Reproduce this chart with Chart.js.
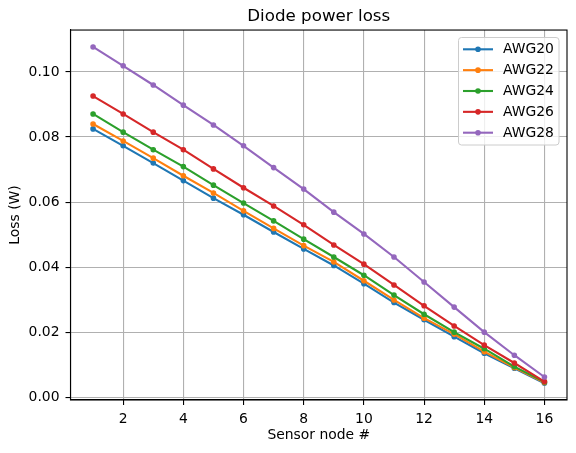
<!DOCTYPE html>
<html>
<head>
<meta charset="utf-8">
<script src="https://cdn.jsdelivr.net/npm/chart.js@4.4.1/dist/chart.umd.min.js"></script>
<style>
    html, body { margin: 0; padding: 0; background: #fff; }
    canvas { display: block; }
</style>
</head>
<body>
<canvas id="loss_chart" width="576" height="453"></canvas>
<script>
// ========== DATA ==========
const sensorNodes = [1, 2, 3, 4, 5, 6, 7, 8, 9, 10, 11, 12, 13, 14, 15, 16];

const awg20 = [0.0825, 0.0773, 0.0720, 0.0666, 0.0612, 0.0561, 0.0508, 0.0456, 0.0405, 0.0349, 0.0291, 0.0238, 0.0186, 0.0135, 0.0089, 0.0043];
const awg22 = [0.0840, 0.0788, 0.0735, 0.0681, 0.0628, 0.0573, 0.0519, 0.0466, 0.0416, 0.0358, 0.0299, 0.0243, 0.0194, 0.0140, 0.0091, 0.0045];
const awg24 = [0.0871, 0.0815, 0.0761, 0.0709, 0.0652, 0.0597, 0.0542, 0.0486, 0.0431, 0.0375, 0.0314, 0.0255, 0.0200, 0.0149, 0.0094, 0.0047];
const awg26 = [0.0926, 0.0871, 0.0815, 0.0761, 0.0702, 0.0644, 0.0588, 0.0530, 0.0468, 0.0409, 0.0345, 0.0281, 0.0219, 0.0160, 0.0105, 0.0048];
const awg28 = [0.1077, 0.1019, 0.0960, 0.0898, 0.0837, 0.0773, 0.0706, 0.0640, 0.0569, 0.0502, 0.0431, 0.0354, 0.0277, 0.0200, 0.0129, 0.0062];

const seriesLabels = ['AWG20', 'AWG22', 'AWG24', 'AWG26', 'AWG28'];
const seriesValues = [awg20, awg22, awg24, awg26, awg28];

const xTicks = [2, 4, 6, 8, 10, 12, 14, 16];
const yTicks = [0.00, 0.02, 0.04, 0.06, 0.08, 0.10];

const colors = ['#1f77b4', '#ff7f0e', '#2ca02c', '#d62728', '#9467bd'];
const FONT = 'DejaVu Sans';
const LABEL_SIZE = 13.9;
const TITLE_SIZE = 16.7;

// ========== CHART ==========

// frame on top/right and the legend box, like matplotlib
const framePlugin = {
    id: 'frame',
    afterDraw(chart) {
        const { ctx, chartArea: a } = chart;
        ctx.save();
        ctx.strokeStyle = '#000';
        ctx.lineWidth = 1.1;
        ctx.strokeRect(a.left, a.top, a.right - a.left, a.bottom - a.top);

        // legend
        const x0 = 458.5, y0 = 37.5, w = 100.5, h = 107.5, r = 3;
        ctx.fillStyle = 'rgba(255,255,255,0.8)';
        ctx.strokeStyle = '#cccccc';
        ctx.lineWidth = 1;
        ctx.beginPath();
        ctx.roundRect(x0, y0, w, h, r);
        ctx.fill();
        ctx.stroke();

        ctx.font = `${LABEL_SIZE}px "${FONT}"`;
        ctx.textBaseline = 'middle';
        ctx.textAlign = 'left';
        chart.data.datasets.forEach((ds, i) => {
            const y = 49.3 + i * 20.85;
            ctx.strokeStyle = ds.borderColor;
            ctx.lineWidth = 2.1;
            ctx.beginPath();
            ctx.moveTo(463, y);
            ctx.lineTo(493, y);
            ctx.stroke();
            ctx.fillStyle = ds.borderColor;
            ctx.beginPath();
            ctx.arc(478, y, 2.8, 0, Math.PI * 2);
            ctx.fill();
            ctx.fillStyle = '#000';
            ctx.fillText(ds.label, 503, y + 0.5);
        });
        ctx.restore();
    }
};

const datasets = seriesLabels.map((label, i) => ({
    label: label,
    data: sensorNodes.map((x, j) => ({ x: x, y: seriesValues[i][j] })),
    borderColor: colors[i],
    backgroundColor: colors[i],
    borderWidth: 2.1,
    pointRadius: 2.1,
    pointBorderWidth: 1.4,
    pointBackgroundColor: colors[i],
    pointBorderColor: colors[i],
    tension: 0,
    order: seriesLabels.length - i
}));

const ctx = document.getElementById('loss_chart').getContext('2d');

window.lossChart = new Chart(ctx, {
    type: 'line',
    data: { datasets: datasets },
    plugins: [framePlugin],
    options: {
        responsive: false,
        animation: false,
        devicePixelRatio: 1,
        layout: { padding: { left: 0, right: 9, top: 0, bottom: 0 } },
        plugins: {
            legend: { display: false },
            tooltip: { enabled: false },
            title: {
                display: true,
                fullSize: false,
                text: 'Diode power loss',
                color: '#000',
                font: { family: FONT, size: TITLE_SIZE, weight: 'normal', lineHeight: 1.2 },
                padding: { top: 6.5, bottom: 3.5 }
            }
        },
        scales: {
            x: {
                type: 'linear',
                min: 0.25,
                max: 16.75,
                afterBuildTicks: scale => {
                    scale.ticks = xTicks.map(v => ({ value: v }));
                },
                afterFit: scale => { scale.height = 53; },
                grid: {
                    color: '#b0b0b0',
                    lineWidth: 1.1,
                    drawTicks: true,
                    tickLength: 5,
                    tickColor: '#000'
                },
                border: { display: true, color: '#000', width: 1.1 },
                ticks: {
                    color: '#000',
                    font: { family: FONT, size: LABEL_SIZE },
                    padding: 6.5,
                    maxRotation: 0,
                    callback: v => String(v)
                },
                title: {
                    display: true,
                    text: 'Sensor node #',
                    color: '#000',
                    font: { family: FONT, size: LABEL_SIZE, lineHeight: 1.2 },
                    padding: { top: 0, bottom: 9.5 }
                }
            },
            y: {
                type: 'linear',
                min: -0.00087,
                max: 0.1129,
                afterBuildTicks: scale => {
                    scale.ticks = yTicks.map(v => ({ value: v }));
                },
                afterFit: scale => { scale.width = 70.5; },
                grid: {
                    color: '#b0b0b0',
                    lineWidth: 1.1,
                    drawTicks: true,
                    tickLength: 5,
                    tickColor: '#000'
                },
                border: { display: true, color: '#000', width: 1.1 },
                ticks: {
                    color: '#000',
                    font: { family: FONT, size: LABEL_SIZE },
                    padding: 6,
                    callback: v => v.toFixed(2)
                },
                title: {
                    display: true,
                    text: 'Loss (W)',
                    color: '#000',
                    font: { family: FONT, size: LABEL_SIZE, lineHeight: 1.2 },
                    padding: { top: 7.5, bottom: 0 }
                }
            }
        }
    }
});
</script>
</body>
</html>
